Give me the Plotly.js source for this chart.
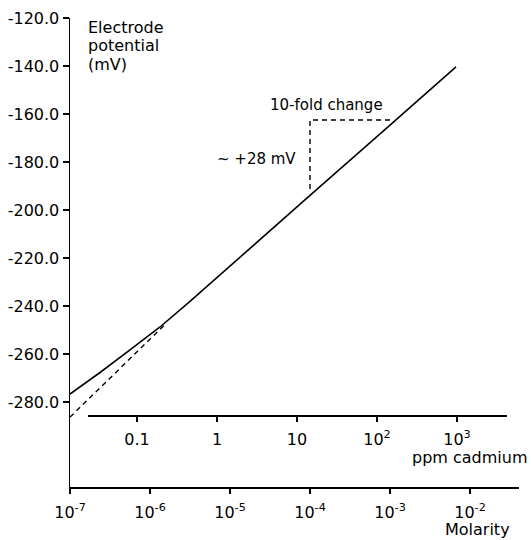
<!DOCTYPE html>
<html>
<head>
<meta charset="utf-8">
<script src="https://cdn.plot.ly/plotly-3.0.1.min.js"></script>
<style>html,body{margin:0;padding:0;background:#fff;}#chart{width:531px;height:540px;}</style>
</head>
<body>
<div id="chart"></div>
<script>
// ---- data ----
const log10Molarity = [-7, -6.625, -6.25, -5.875, -5.5, -5, -4, -3, -2.175];
const potentialMV   = [-276.7, -267.7, -258.3, -248.75, -238.1, -223.5, -193.9, -164.6, -140.4];

const extrapLog10Molarity = [-7, -5.8];
const extrapPotentialMV   = [-286.3, -247.3];

const triangleLog10Molarity = [-3, -4, -4];
const trianglePotentialMV   = [-162.5, -162.5, -192.5];

const yTickVals = [-120, -140, -160, -180, -200, -220, -240, -260, -280];
const molarityTickExp = [-7, -6, -5, -4, -3, -2];
const ppmTickVals = [0.1, 1, 10, 100, 1000];
const ppmTickText = ["0.1", "1", "10", "10<sup>2</sup>", "10<sup>3</sup>"];

// ---- layout helpers ----
const W = 531, H = 540;
const M = {l: 70, r: 12, t: 18, b: 53};
const PW = W - M.l - M.r, PH = H - M.t - M.b;
const px = x => (x - M.l) / PW;
const py = y => (H - M.b - y) / PH;
const FONT = "DejaVu Sans";
const pow10 = v => Math.pow(10, v);

const traces = [
  {x: log10Molarity.map(pow10), y: potentialMV, mode: "lines",
   line: {color: "#000", width: 1.6}, hoverinfo: "skip", showlegend: false},
  {x: extrapLog10Molarity.map(pow10), y: extrapPotentialMV, mode: "lines",
   line: {color: "#000", width: 1.4, dash: "5px,4px"}, hoverinfo: "skip", showlegend: false},
  {x: triangleLog10Molarity.map(pow10), y: trianglePotentialMV, mode: "lines",
   line: {color: "#000", width: 1.4, dash: "5px,4px"}, hoverinfo: "skip", showlegend: false},
  // carrier so the ppm scale (second x axis) is drawn; it has no visible marks
  {x: ppmTickVals, y: ppmTickVals.map(() => null), xaxis: "x2", yaxis: "y2", mode: "lines",
   line: {color: "rgba(0,0,0,0)"}, hoverinfo: "skip", showlegend: false}
];

const layout = {
  width: W, height: H,
  margin: M,
  paper_bgcolor: "#fff", plot_bgcolor: "rgba(0,0,0,0)",
  font: {family: FONT, size: 16, color: "#000"},
  showlegend: false,
  xaxis: {
    type: "log", range: [-7, -7 + PW / 80],
    showline: true, linecolor: "#000", linewidth: 1.5,
    showgrid: false, zeroline: false,
    ticks: "outside", ticklen: 5, tickwidth: 1.5, tickcolor: "#000",
    ticklabelstandoff: 5,
    tickvals: molarityTickExp.map(pow10),
    ticktext: molarityTickExp.map(e => "10<sup>" + e + "</sup>"),
    tickfont: {family: FONT, size: 16, color: "#000"},
    fixedrange: true
  },
  xaxis2: {
    type: "log", anchor: "y2",
    domain: [px(88), px(507)],
    range: [-1 + (88 - 137) / 80, -1 + (507 - 137) / 80],
    showline: true, linecolor: "#000", linewidth: 1.5,
    showgrid: false, zeroline: false,
    ticks: "outside", ticklen: 5, tickwidth: 1.5, tickcolor: "#000",
    ticklabelstandoff: 4,
    tickvals: ppmTickVals, ticktext: ppmTickText,
    tickfont: {family: FONT, size: 16, color: "#000"},
    fixedrange: true
  },
  yaxis2: {
    anchor: "x2", domain: [py(415), 1], range: [0, 1],
    visible: false, showgrid: false, zeroline: false, fixedrange: true
  },
  yaxis: {
    range: [-120 - PH * 20 / 48, -120],
    showline: true, linecolor: "#000", linewidth: 1.5,
    showgrid: false, zeroline: false,
    ticks: "outside", ticklen: 6, tickwidth: 1.5, tickcolor: "#000",
    tickvals: yTickVals, ticktext: yTickVals.map(v => v.toFixed(1)),
    tickfont: {family: FONT, size: 16, color: "#000"},
    fixedrange: true
  },
  annotations: [
    {text: "Electrode", xref: "paper", yref: "paper", x: px(86), y: py(27), xanchor: "left", yanchor: "middle", showarrow: false, font: {size: 16}},
    {text: "potential", xref: "paper", yref: "paper", x: px(86), y: py(46), xanchor: "left", yanchor: "middle", showarrow: false, font: {size: 16}},
    {text: "(mV)", xref: "paper", yref: "paper", x: px(86), y: py(64.5), xanchor: "left", yanchor: "middle", showarrow: false, font: {size: 16}},
    {text: "10-fold change", xref: "paper", yref: "paper", x: px(326.5), y: py(105), xanchor: "center", yanchor: "middle", showarrow: false, font: {size: 15}},
    {text: "~ +28 mV", xref: "paper", yref: "paper", x: px(298), y: py(159), xanchor: "right", yanchor: "middle", showarrow: false, font: {size: 15}},
    {text: "ppm cadmium", xref: "paper", yref: "paper", x: px(470), y: py(457), xanchor: "center", yanchor: "middle", showarrow: false, font: {size: 16}},
    {text: "Molarity", xref: "paper", yref: "paper", x: px(477), y: py(529), xanchor: "center", yanchor: "middle", showarrow: false, font: {size: 16}}
  ]
};

Plotly.newPlot("chart", traces, layout, {displayModeBar: false, staticPlot: true});
</script>
</body>
</html>
